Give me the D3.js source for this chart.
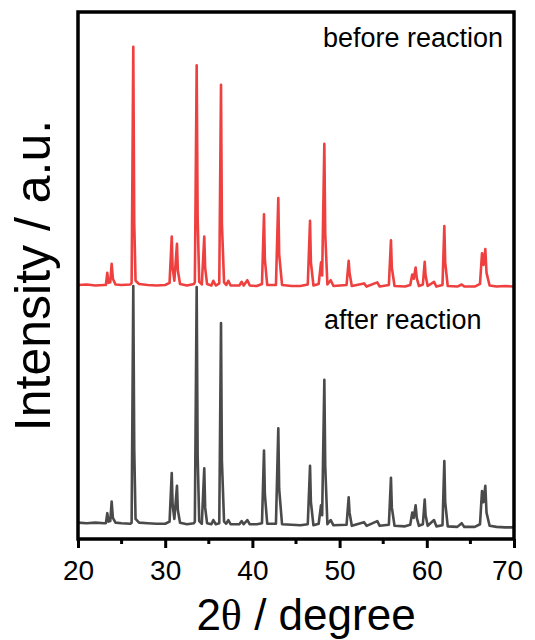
<!DOCTYPE html>
<html>
<head>
  <title>XRD before / after reaction</title>
  <script src="https://d3js.org/d3.v7.min.js"></script>
  <style>
    body { margin: 0; background: #fff; }
    svg text { font-family: "Liberation Sans", Arial, sans-serif; fill: #000; }
    .tick-label { font-size: 28px; }
    .axis-title { font-size: 44px; }
    .y-title { font-size: 50px; }
    .note { font-size: 27px; }
  </style>
</head>
<body>
  <div id="chart"></div>

  <script>
    // 2theta grid shared by both patterns (degrees)
    const twoTheta = [
      20.0, 21.0, 22.0, 23.0, 23.2, 23.36, 23.5, 23.7, 23.86, 24.0, 24.3, 25.0, 26.0, 26.15, 26.34, 26.45, 26.6,
      27.0, 28.0, 29.0, 30.0, 30.5, 30.75, 30.85, 31.05, 31.35, 31.45, 31.7, 32.5, 33.3, 33.4, 33.61, 33.72, 33.9,
      34.2, 34.48, 34.58, 34.8, 35.3, 35.52, 35.8, 36.2, 36.4, 36.5, 36.75, 37.0, 37.24, 37.5, 38.5, 38.77, 39.0,
      39.42, 39.7, 40.5, 41.1, 41.33, 41.43, 41.7, 42.7, 42.97, 43.07, 43.4, 44.5, 45.5, 46.35, 46.61, 46.71, 47.0,
      47.6, 47.87, 48.0, 48.25, 48.35, 48.6, 48.98, 49.3, 50.8, 51.04, 51.14, 51.4, 52.8, 53.1, 54.32, 54.6, 55.65,
      55.89, 55.99, 56.3, 57.5, 58.1, 58.33, 58.5, 58.72, 58.85, 59.1, 59.55, 59.76, 59.86, 60.1, 60.83, 61.1, 61.8,
      62.01, 62.11, 62.4, 63.5, 64.0, 64.3, 65.5, 66.1, 66.33, 66.5, 66.71, 66.85, 67.2, 68.0, 69.0, 70.0
    ];

    // intensity (a.u., already stacked) before reaction
    const beforeI = [
      482, 483, 481, 482, 482, 505, 486, 487, 522, 494, 483, 482, 483, 486, 934, 600, 490,
      484, 482, 481, 482, 486, 574, 515, 490, 560, 510, 484, 481, 484, 487, 899, 610, 488,
      483, 574, 515, 484, 481, 490, 481, 485, 862, 600, 487, 482, 490, 481, 481, 488, 481,
      491, 481, 480, 484, 616, 530, 482, 482, 647, 540, 482, 480, 480, 483, 604, 525, 481,
      484, 525, 500, 750, 580, 483, 491, 480, 482, 528, 505, 480, 485, 479, 487, 479, 482,
      567, 515, 480, 479, 482, 502, 494, 515, 495, 480, 483, 526, 500, 480, 488, 479, 482,
      594, 525, 480, 479, 483, 479, 479, 484, 542, 520, 550, 505, 481, 479, 480, 479
    ];

    // intensity (a.u.) after reaction
    const afterI = [
      31, 30, 31, 30, 30, 49, 33, 34, 71, 40, 31, 30, 29, 31, 480, 170, 38,
      31, 30, 29, 29, 33, 125, 65, 38, 101, 55, 31, 28, 30, 33, 478, 160, 34,
      29, 134, 60, 30, 28, 36, 28, 30, 410, 150, 33, 29, 36, 28, 28, 34, 28,
      36, 28, 28, 30, 168, 85, 29, 29, 210, 95, 28, 27, 26, 28, 139, 70, 26,
      29, 64, 45, 302, 140, 28, 36, 26, 27, 79, 50, 25, 32, 25, 34, 25, 27,
      116, 60, 25, 24, 27, 50, 40, 64, 40, 25, 28, 75, 45, 25, 36, 24, 26,
      148, 70, 24, 23, 30, 23, 23, 28, 91, 70, 101, 50, 25, 23, 22, 22
    ];

    const xTicks = [20, 30, 40, 50, 60, 70];
    const xMinorTicks = [25, 35, 45, 55, 65];

    const W = 535, H = 640;
    const mLeft = 78, mRight = 514, mTop = 12, mBottom = 539;

    const svg = d3.select("#chart").append("svg")
      .attr("width", W)
      .attr("height", H);

    const x = d3.scaleLinear().domain([20, 70]).range([mLeft, mRight]);
    const y = d3.scaleLinear().domain([0, 1000]).range([mBottom, mTop]);

    const pts = twoTheta.map((t, i) => ({ t, b: beforeI[i], a: afterI[i] }));

    const lineAfter = d3.line().x(d => x(d.t)).y(d => y(d.a));
    const lineBefore = d3.line().x(d => x(d.t)).y(d => y(d.b));

    svg.append("path")
      .datum(pts)
      .attr("d", lineAfter)
      .attr("fill", "none")
      .attr("stroke", "#4a4a4a")
      .attr("stroke-width", 2.6)
      .attr("stroke-linejoin", "round");

    svg.append("path")
      .datum(pts)
      .attr("d", lineBefore)
      .attr("fill", "none")
      .attr("stroke", "#ef4040")
      .attr("stroke-width", 2.6)
      .attr("stroke-linejoin", "round");

    // frame
    svg.append("rect")
      .attr("x", mLeft).attr("y", mTop)
      .attr("width", mRight - mLeft).attr("height", mBottom - mTop)
      .attr("fill", "none")
      .attr("stroke", "#000")
      .attr("stroke-width", 3.5);

    // bottom axis, ticks outward
    const xAxis = d3.axisBottom(x)
      .tickValues(xTicks)
      .tickSize(9)
      .tickPadding(12)
      .tickFormat(d3.format("d"));

    const gx = svg.append("g")
      .attr("transform", `translate(0,${mBottom})`)
      .call(xAxis);
    gx.select(".domain").remove();
    gx.selectAll(".tick line").attr("stroke", "#000").attr("stroke-width", 3);
    gx.selectAll(".tick text")
      .attr("class", "tick-label")
      .attr("fill", "#000")
      .attr("dy", "0.71em")
      .attr("dx", d => d === 70 ? -7 : 0);

    svg.append("g")
      .attr("transform", `translate(0,${mBottom})`)
      .selectAll("line")
      .data(xMinorTicks)
      .join("line")
      .attr("x1", d => x(d)).attr("x2", d => x(d))
      .attr("y1", 0).attr("y2", 5)
      .attr("stroke", "#000")
      .attr("stroke-width", 3);

    // axis titles
    const xt = svg.append("text")
      .attr("class", "axis-title")
      .attr("x", (mLeft + mRight) / 2 + 10)
      .attr("y", 630)
      .attr("text-anchor", "middle");
    xt.append("tspan").text("2");
    xt.append("tspan").style("font-family", "'Liberation Serif', 'Times New Roman', serif").text("θ");
    xt.append("tspan").text(" / degree");

    svg.append("text")
      .attr("class", "y-title")
      .attr("transform", `translate(50,${(mTop + mBottom) / 2}) rotate(-90)`)
      .attr("text-anchor", "middle")
      .text("Intensity / a.u.");

    // labels
    svg.append("text")
      .attr("class", "note")
      .attr("x", 323).attr("y", 47)
      .text("before reaction");

    svg.append("text")
      .attr("class", "note")
      .attr("x", 324).attr("y", 329)
      .text("after reaction");
  </script>
</body>
</html>
